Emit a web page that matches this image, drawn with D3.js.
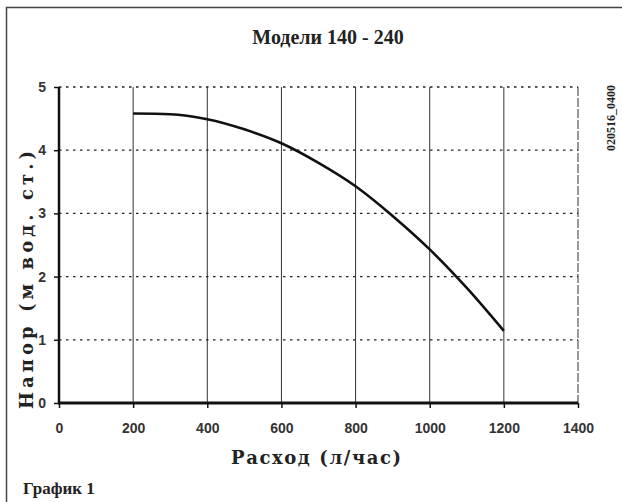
<!DOCTYPE html>
<meta charset="utf-8">
<style>

html, body {
  margin: 0;
  padding: 0;
  background: #fff;
}

svg {
  display: block;
}

.serif {
  font-family: "Liberation Serif", "Times New Roman", serif;
  font-weight: bold;
  fill: #222;
}

.wide {
  font-family: "DejaVu Serif", serif;
  font-weight: bold;
  fill: #222;
}

.axis text {
  font-family: "Liberation Sans", Arial, sans-serif;
  font-size: 14px;
  font-weight: bold;
  fill: #333;
}

.axis .domain {
  display: none;
}

</style>
<svg width="622" height="502"></svg>
<script src="https://d3js.org/d3.v7.min.js"></script>
<script>

// pump curve
var flow = [200, 300, 400, 500, 600, 700, 800, 900, 1000, 1100, 1200];
var head = [4.58, 4.57, 4.49, 4.33, 4.11, 3.80, 3.43, 2.96, 2.43, 1.82, 1.14];
var xTicks = [0, 200, 400, 600, 800, 1000, 1200, 1400];
var yTicks = [0, 1, 2, 3, 4, 5];

var svg = d3.select("svg");

var x = d3.scaleLinear().domain([0, 1400]).range([59, 578]);
var y = d3.scaleLinear().domain([0, 5]).range([403, 87]);

// outer frame (left and top only, the rest is cut off)
svg.append("path")
    .attr("d", "M6.5,502 V7.5 H622")
    .attr("fill", "none")
    .attr("stroke", "#444")
    .attr("stroke-width", 1.5);

// vertical grid
svg.append("g").selectAll("line")
  .data(xTicks.slice(1))
  .enter().append("line")
    .attr("x1", function(d) { return x(d); })
    .attr("x2", function(d) { return x(d); })
    .attr("y1", y(5))
    .attr("y2", y(0))
    .attr("stroke", "#333")
    .attr("stroke-width", 1)
    .attr("stroke-dasharray", function(d) { return d === 1400 ? "9,2" : null; });

// horizontal grid
svg.append("g").selectAll("line")
  .data(yTicks.slice(1))
  .enter().append("line")
    .attr("x1", x(0))
    .attr("x2", x(1400))
    .attr("y1", function(d) { return y(d); })
    .attr("y2", function(d) { return y(d); })
    .attr("stroke", "#222")
    .attr("stroke-width", 1.3)
    .attr("stroke-dasharray", "2.5,4.5");

// axes
svg.append("g")
    .attr("class", "axis")
    .attr("transform", "translate(0," + y(0) + ")")
    .call(d3.axisBottom(x).tickValues(xTicks).tickFormat(d3.format("d")).tickSize(5).tickPadding(15))
    .call(function(g) { g.selectAll(".tick line").attr("stroke", "#111").attr("stroke-width", 1.5); });

svg.append("g")
    .attr("class", "axis")
    .attr("transform", "translate(" + x(0) + ",0)")
    .call(d3.axisLeft(y).tickValues(yTicks).tickFormat(d3.format("d")).tickSize(5).tickPadding(8))
    .call(function(g) { g.selectAll(".tick line").attr("stroke", "#111").attr("stroke-width", 1.5); });

svg.append("line")
    .attr("x1", x(0)).attr("x2", x(0))
    .attr("y1", y(5)).attr("y2", y(0) + 1)
    .attr("stroke", "#111")
    .attr("stroke-width", 2.5);

svg.append("line")
    .attr("x1", x(0) - 1).attr("x2", x(1400))
    .attr("y1", y(0)).attr("y2", y(0))
    .attr("stroke", "#111")
    .attr("stroke-width", 3);

// the curve
var line = d3.line()
    .x(function(d, i) { return x(flow[i]); })
    .y(function(d) { return y(d); })
    .curve(d3.curveMonotoneX);

svg.append("path")
    .attr("d", line(head))
    .attr("fill", "none")
    .attr("stroke", "#111")
    .attr("stroke-width", 2.6);

// texts
svg.append("text")
    .attr("class", "serif")
    .attr("x", 328)
    .attr("y", 44)
    .attr("text-anchor", "middle")
    .style("font-size", "20px")
    .text("Модели 140 - 240");

svg.append("text")
    .attr("class", "wide")
    .attr("x", 316)
    .attr("y", 464)
    .attr("text-anchor", "middle")
    .attr("textLength", 170)
    .attr("lengthAdjust", "spacing")
    .style("font-size", "18px")
    .text("Расход (л/час)");

svg.append("text")
    .attr("class", "wide")
    .attr("transform", "translate(33,280) rotate(-90)")
    .attr("text-anchor", "middle")
    .attr("textLength", 258)
    .attr("lengthAdjust", "spacing")
    .style("font-size", "18px")
    .text("Напор (м вод. ст.)");

svg.append("text")
    .attr("class", "serif")
    .attr("transform", "translate(615,118) rotate(-90)")
    .attr("text-anchor", "middle")
    .style("font-size", "12px")
    .text("020516_0400");

svg.append("text")
    .attr("class", "serif")
    .attr("x", 23)
    .attr("y", 494)
    .style("font-size", "17px")
    .text("График 1");

</script>
